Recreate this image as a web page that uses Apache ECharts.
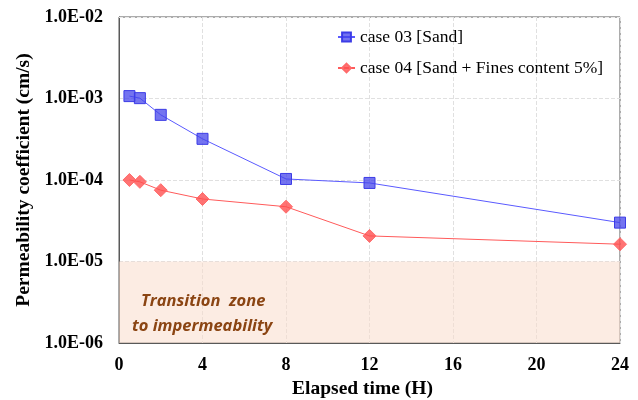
<!DOCTYPE html>
<html>
<head>
<meta charset="utf-8">
<script src="https://cdn.jsdelivr.net/npm/echarts@6/dist/echarts.min.js"></script>
<style>
  html, body { margin: 0; padding: 0; background: #fff; }
  #chart { width: 638px; height: 400px; }
</style>
</head>
<body>
<div id="chart"></div>
<script>
const timeH = [0.5, 1, 2, 4, 8, 12, 24];
const case03 = [1.07e-3, 1.01e-3, 6.3e-4, 3.2e-4, 1.03e-4, 9.2e-5, 3.0e-5];
const case04 = [1.0e-4, 9.5e-5, 7.5e-5, 5.85e-5, 4.7e-5, 2.06e-5, 1.63e-5];
const seriesNames = ['case 03 [Sand]', 'case 04 [Sand + Fines content 5%]'];
const zoneText = ['Transition  zone', 'to impermeability'];

// minor grid lines at 2..9 x each decade
const minorLines = [];
for (let e = -6; e < -2; e++) {
  for (let m = 2; m <= 9; m++) minorLines.push({ yAxis: m * Math.pow(10, e) });
}

const fmtExp = (v) => {
  const e = Math.round(Math.log10(v));
  const s = Math.abs(e) < 10 ? '0' + Math.abs(e) : '' + Math.abs(e);
  return '1.0E' + (e < 0 ? '-' : '+') + s;
};

const serif = '"Liberation Serif", "Times New Roman", serif';

const chart = echarts.init(document.getElementById('chart'));
chart.setOption({
  animation: false,
  grid: {
    left: 119, right: 18, top: 17, bottom: 57,
    containLabel: false, outerBoundsMode: 'none',
    show: true, borderColor: '#595959', borderWidth: 1
  },
  legend: {
    orient: 'vertical',
    left: 332,
    top: 23,
    itemGap: 13,
    itemWidth: 17,
    itemHeight: 11,
    textStyle: { fontFamily: serif, fontSize: 17.5, color: '#000' },
    data: seriesNames
  },
  xAxis: {
    type: 'value',
    min: 0,
    max: 24,
    interval: 4,
    name: 'Elapsed time (H)',
    nameLocation: 'middle',
    nameGap: 33,
    nameTextStyle: { fontFamily: serif, fontSize: 19.5, fontWeight: 'bold', color: '#000', padding: [0, 14, 0, 0] },
    axisLine: { lineStyle: { color: '#595959' } },
    axisTick: { show: false },
    axisLabel: { fontFamily: serif, fontSize: 18, fontWeight: 'bold', color: '#000', margin: 13 },
    splitLine: { show: true, lineStyle: { color: '#e0e0e0', type: 'dashed' } }
  },
  yAxis: {
    type: 'log',
    logBase: 10,
    min: 1e-6,
    max: 1e-2,
    name: 'Permeability coefficient (cm/s)',
    nameLocation: 'middle',
    nameGap: 85,
    nameTextStyle: { fontFamily: serif, fontSize: 19.5, fontWeight: 'bold', color: '#000' },
    axisLine: { show: true, lineStyle: { color: '#595959' } },
    axisTick: { show: false },
    axisLabel: { fontFamily: serif, fontSize: 18, fontWeight: 'bold', color: '#000', margin: 16, formatter: fmtExp },
    splitLine: { show: true, lineStyle: { color: '#e0e0e0', type: 'dashed' } }
  },
  graphic: [
    {
      type: 'text',
      left: 141,
      top: 293,
      style: { text: zoneText[0], font: 'italic bold 16.5px "Open Sans", sans-serif', fill: '#8b4513' },
      z: 10
    },
    {
      type: 'text',
      left: 132,
      top: 318,
      style: { text: zoneText[1], font: 'italic bold 16.5px "Open Sans", sans-serif', fill: '#8b4513' },
      z: 10
    }
  ],
  series: [
    {
      name: 'zone',
      type: 'line',
      data: [],
      silent: true,
      markArea: {
        silent: true,
        itemStyle: { color: 'rgba(249, 221, 204, 0.55)' },
        data: [[{ yAxis: 1e-6 }, { yAxis: 1e-5 }]]
      },
      markLine: {
        silent: true,
        symbol: 'none',
        label: { show: false },
        lineStyle: { color: '#ebebeb', type: 'dashed', width: 1 },
        data: minorLines
      }
    },
    {
      name: seriesNames[0],
      type: 'line',
      data: timeH.map((t, i) => [t, case03[i]]),
      symbol: 'rect',
      symbolSize: 11,
      lineStyle: { color: '#5a5aff', width: 1 },
      itemStyle: { color: 'rgba(70, 70, 235, 0.75)', borderColor: '#3c3ce6', borderWidth: 1 },
      z: 3
    },
    {
      name: seriesNames[1],
      type: 'line',
      data: timeH.map((t, i) => [t, case04[i]]),
      symbol: 'diamond',
      symbolSize: 13,
      lineStyle: { color: '#ff5a5a', width: 1 },
      itemStyle: { color: 'rgba(255, 80, 80, 0.8)', borderColor: '#ff6a6a', borderWidth: 1 },
      z: 3
    }
  ]
});
</script>
</body>
</html>
